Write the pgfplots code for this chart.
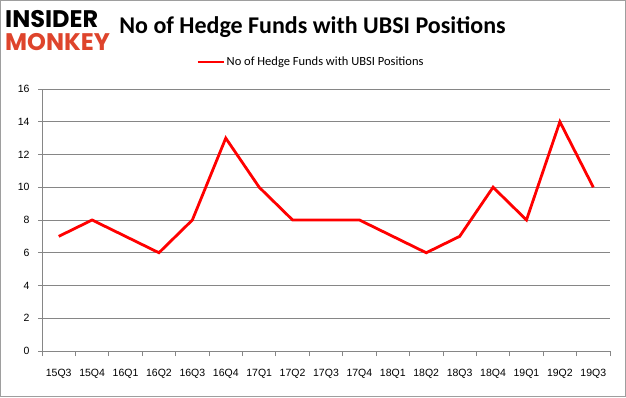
\documentclass[border=0pt]{standalone}
\usepackage{pgfplots}
\pgfplotsset{compat=1.18}
\usepackage{fontspec}
\setmainfont{Liberation Sans}
\newfontfamily\titlefont{Carlito}
\newfontfamily\logofont{Poppins}
\definecolor{gridgray}{RGB}{134,134,134}
\definecolor{logored}{RGB}{222,68,44}
\begin{document}
\begin{tikzpicture}[x=1pt,y=1pt]
\useasboundingbox (0,0) rectangle (626,397);
\draw[color=gridgray!80, line width=1pt] (0.5,0.5) rectangle (625.5,396.5);
\node[anchor=west, font=\logofont\bfseries\fontsize{24}{24}\selectfont, inner sep=0] at (5,378) {INSIDER};
\node[anchor=west, font=\logofont\bfseries\fontsize{24}{24}\selectfont, text=logored, inner sep=0] at (5,355) {MONKEY};
\node[font=\titlefont\bfseries\fontsize{24}{26}\selectfont, inner sep=0] at (312.5,370) {No of Hedge Funds with UBSI Positions};
\begin{axis}[
  at={(42pt,46pt)}, anchor=south west,
  width=568pt, height=262pt, scale only axis,
  xmin=-0.5, xmax=16.5, ymin=0, ymax=16,
  ytick={0,2,...,16},
  xtick={0,...,16},
  xticklabels={15Q3,15Q4,16Q1,16Q2,16Q3,16Q4,17Q1,17Q2,17Q3,17Q4,18Q1,18Q2,18Q3,18Q4,19Q1,19Q2,19Q3},
  minor xtick={-0.5,0.5,...,16.5},
  major x tick style={draw=none},
  minor x tick style={gridgray, line width=0.8pt},
  y tick style={gridgray, line width=0.8pt},
  tick align=outside,
  major tick length=4pt, minor tick length=5pt,
  ymajorgrids, grid style={gridgray, line width=0.8pt},
  axis x line*=bottom, axis y line*=left,
  axis line style={gridgray, line width=0.8pt, -},
  tick label style={font=\fontsize{10.5}{12}\selectfont, text=black},
  xticklabel style={yshift=-11pt},
  yticklabel style={xshift=-5pt},
  /pgf/number format/assume math mode=true,
  legend style={at={(0.5,1.0)}, anchor=center, xshift=-15pt, yshift=27pt, draw=none, fill=none, font=\titlefont\fontsize{12.5}{14}\selectfont},
  legend cell align=left,
  legend image code/.code={\draw[#1, line width=2.2pt] (0pt,0pt) -- (26pt,0pt);},
  clip=false,
]
\addplot[red, line width=2.8pt] coordinates {
(0,7) (1,8) (2,7) (3,6) (4,8) (5,13) (6,10) (7,8) (8,8) (9,8) (10,7) (11,6) (12,7) (13,10) (14,8) (15,14) (16,10)
};
\addlegendentry{No of Hedge Funds with UBSI Positions}
\end{axis}
\end{tikzpicture}
\end{document}
